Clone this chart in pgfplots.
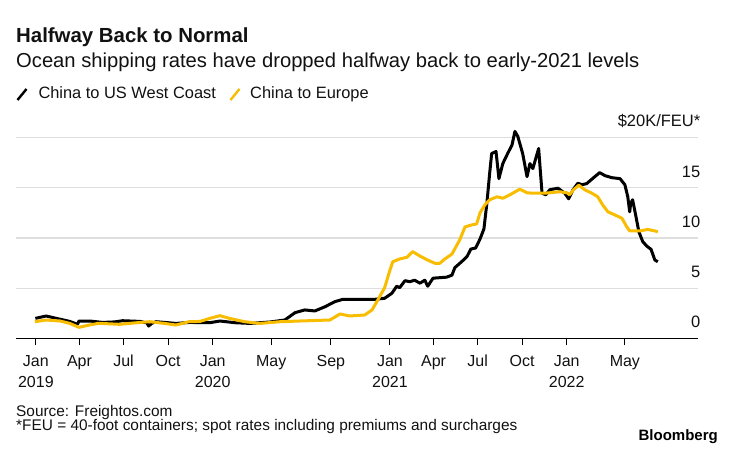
\documentclass[border=0pt]{standalone}
\usepackage{fontspec}
\setmainfont{Liberation Sans}
\usepackage{pgfplots}
\pgfplotsset{compat=1.18}
\definecolor{bgold}{RGB}{248,189,0}
\definecolor{gridgray}{RGB}{222,222,222}
\definecolor{txt}{RGB}{17,17,17}
\begin{document}
\begin{tikzpicture}[x=1pt,y=1pt]
\path[use as bounding box] (0,0) rectangle (735,449);
\begin{axis}[at={(16pt,110.5pt)}, anchor=south west, scale only axis,
  width=682pt, height=211.1pt,
  xmin=-41, xmax=1367, ymin=0, ymax=21,
  axis x line*=bottom, axis y line*=right,
  y axis line style={draw=none},
  x axis line style={draw=black, line width=1.1pt},
  ytick={0,5,10,15,20},
  yticklabels={0,5,10,15,{\$20K/FEU*}},
  ytick style={draw=none},
  ymajorgrids, major grid style={gridgray, line width=1.1pt},
  yticklabel style={anchor=base east, inner sep=0pt, xshift=-4.5pt, yshift=10.7pt, font=\fontsize{16.5}{18}\selectfont, text=txt},
  xtick={0,90,181,273,365,486,609,731,821,912,1004,1096,1216},
  xticklabels={{Jan\\[1pt]2019},Apr,Jul,Oct,{Jan\\[1pt]2020},May,Sep,{Jan\\[1pt]2021},Apr,Jul,Oct,{Jan\\[1pt]2022},May},
  tick align=outside, major tick length=7pt,
  xtick style={draw=black, line width=1pt},
  xticklabel style={align=center, anchor=north, inner sep=0pt, yshift=-9.5pt, font=\fontsize{16}{20}\selectfont, text=txt},
  clip=false,
]
\addplot[black, line width=3pt, line join=round] coordinates {
(-1,2.0) (21,2.24) (48,1.94) (70,1.7) (86,1.41) (89,1.74) (111,1.74) (138,1.6) (163,1.65) (179,1.77) (215,1.7) (229,1.55) (233,1.24) (239,1.5) (248,1.67) (266,1.6) (289,1.5) (318,1.6) (344,1.57) (359,1.57) (380,1.74) (411,1.57) (442,1.5) (483,1.64) (514,1.84) (535,2.57) (555,2.84) (576,2.74) (597,3.16) (617,3.66) (634,3.9) (669,3.9) (700,3.9) (720,4.0) (735,4.5) (745,5.2) (751,5.05) (762,5.75) (772,5.65) (782,5.8) (793,5.5) (803,5.8) (809,5.2) (820,6.0) (834,6.05) (848,6.1) (859,6.3) (865,7.05) (879,7.64) (890,8.14) (898,8.9) (908,9.0) (917,9.9) (925,10.9) (931,13.4) (937,16.5) (941,18.4) (950,18.6) (956,15.9) (964,17.4) (974,18.4) (983,19.25) (989,20.6) (995,20.1) (1005,18.4) (1014,16.1) (1020,17.4) (1026,16.9) (1032,17.9) (1038,18.9) (1045,14.45) (1053,14.3) (1061,14.8) (1078,14.95) (1092,14.45) (1100,13.9) (1109,14.8) (1119,15.45) (1127,15.3) (1137,15.4) (1154,16.1) (1164,16.5) (1175,16.2) (1189,16.0) (1206,15.9) (1216,15.3) (1222,14.1) (1226,12.6) (1228,13.45) (1232,13.8) (1239,12.1) (1245,10.6) (1253,9.63) (1261,9.2) (1270,8.87) (1278,7.8) (1284,7.64)
};
\addplot[bgold, line width=3pt, line join=round] coordinates {
(-2,1.67) (21,1.84) (50,1.74) (70,1.5) (89,1.11) (111,1.35) (130,1.51) (173,1.41) (204,1.55) (235,1.67) (266,1.5) (289,1.34) (316,1.67) (339,1.7) (359,2.0) (380,2.27) (400,2.0) (431,1.67) (462,1.5) (504,1.67) (545,1.74) (607,1.84) (628,2.44) (648,2.24) (679,2.34) (694,2.84) (706,3.83) (720,5.05) (731,6.8) (737,7.64) (751,7.91) (766,8.08) (778,8.64) (793,8.2) (809,7.8) (824,7.48) (834,7.48) (844,7.9) (859,8.4) (875,9.8) (886,11.1) (900,11.3) (910,11.4) (917,12.5) (927,13.3) (937,13.8) (952,14.1) (964,13.95) (979,14.3) (999,14.85) (1014,14.5) (1026,14.45) (1051,14.45) (1082,14.6) (1096,14.5) (1102,14.3) (1110,14.8) (1121,15.25) (1133,14.8) (1148,14.45) (1160,14.1) (1170,13.3) (1181,12.6) (1195,12.3) (1210,11.96) (1220,11.1) (1226,10.7) (1247,10.7) (1263,10.85) (1278,10.7) (1284,10.6)
};
\end{axis}
\node[anchor=base west, inner sep=0pt, text=txt, font=\fontsize{20.4}{24}\selectfont\bfseries] at (16,406.7) {Halfway Back to Normal};
\node[anchor=base west, inner sep=0pt, text=txt, font=\fontsize{20.2}{24}\selectfont] at (16,381.7) {Ocean shipping rates have dropped halfway back to early-2021 levels};
\draw[black, line width=2.4pt] (17.5,349) -- (26.5,360);
\node[anchor=base west, inner sep=0pt, text=txt, font=\fontsize{16.4}{20}\selectfont] at (38.3,350) {China to US West Coast};
\draw[bgold, line width=2.4pt] (230.5,349) -- (239.5,360);
\node[anchor=base west, inner sep=0pt, text=txt, font=\fontsize{16.4}{20}\selectfont] at (250,350) {China to Europe};
\node[anchor=base west, inner sep=0pt, text=txt, font=\fontsize{15.4}{20}\selectfont] at (16,32.3) {Source: Freightos.com};
\node[anchor=base west, inner sep=0pt, text=txt, font=\fontsize{15.4}{20}\selectfont] at (16,18.3) {*FEU = 40-foot containers; spot rates including premiums and surcharges};
\node[anchor=base east, inner sep=0pt, text=black, font=\fontsize{15}{18}\selectfont\bfseries] at (718,8.3) {Bloomberg};
\end{tikzpicture}
\end{document}
